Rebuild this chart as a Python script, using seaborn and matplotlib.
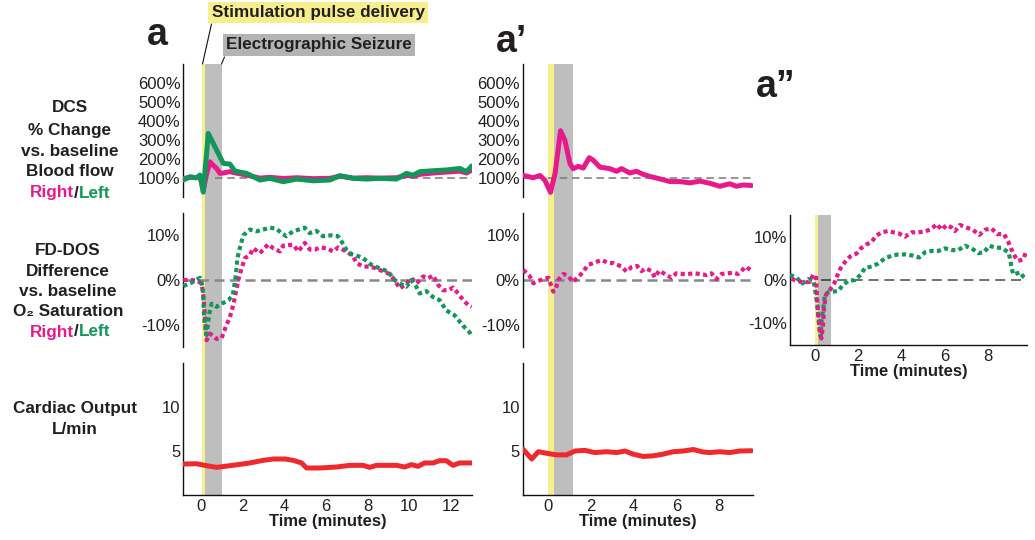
import numpy as np
import pandas as pd
import matplotlib
matplotlib.use("Agg")
import matplotlib.pyplot as plt
import seaborn as sns
from matplotlib.lines import Line2D

# ---------------- data ----------------
# Panel a : DCS blood flow (% of baseline)
A_DCS_LEFT_T = [-0.85, -0.53, -0.21, -0.05, 0.11, 0.35, 0.59, 0.83, 1.07, 1.39, 1.63, 2.19, 2.83, 3.31,
                3.95, 4.59, 5.39, 6.19, 6.67, 7.31, 7.95, 8.59, 9.39, 9.87, 10.19, 10.51, 11.15, 11.79,
                12.43, 12.75, 13.0]
A_DCS_LEFT_V = [88, 105, 100, 114, 24, 334, 281, 228, 176, 172, 135, 123, 88, 97, 79, 93, 84, 88, 111,
                97, 93, 97, 93, 123, 113, 132, 137, 141, 149, 132, 162]
A_DCS_RIGHT_T = [-0.85, -0.53, -0.21, -0.05, 0.11, 0.27, 0.43, 0.59, 0.75, 0.91, 1.07, 1.39, 1.63, 2.19,
                 2.83, 3.31, 3.95, 4.59, 5.39, 6.19, 6.67, 7.31, 7.95, 8.59, 9.39, 9.87, 10.19, 10.51,
                 11.15, 11.79, 12.43, 12.75, 13.0]
A_DCS_RIGHT_V = [95, 103, 100, 110, 35, 120, 184, 165, 149, 123, 125, 132, 126, 114, 98, 102, 96, 100,
                 95, 97, 108, 98, 100, 98, 100, 112, 108, 118, 125, 130, 135, 125, 140]

# Panel a : FD-DOS O2 saturation difference (%)
A_SAT_LEFT_T = [-0.85, -0.45, -0.05, 0.08, 0.12, 0.15, 0.19, 0.27, 0.40, 0.51, 0.75, 1.0, 1.32, 1.53,
                1.64, 1.69, 1.75, 1.87, 2.03, 2.35, 2.67, 3.31, 3.62, 3.86, 4.1, 4.42, 4.98, 5.22,
                5.54, 5.86, 6.26, 6.58, 6.74, 6.98, 7.22, 7.46, 7.78, 8.18, 8.58, 8.98, 9.3, 9.54,
                9.86, 10.1, 10.34, 10.5, 10.82, 11.14, 11.46, 11.78, 12.18, 12.58, 12.9, 13.0]
A_SAT_LEFT_V = [-1.35, -0.6, 0.5, -1.5, -4.9, -7.9, -10.2, -12.3, -7.5, -5.3, -6.0, -5.3, -4.5, -3.4,
                0.0, 1.9, 4.9, 7.2, 10.0, 11.3, 10.9, 11.7, 11.5, 10.5, 9.8, 10.9, 11.7, 10.5, 11.0,
                9.8, 10.0, 9.8, 8.7, 6.8, 5.8, 5.5, 4.9, 3.4, 2.6, 1.9, 0.0, -0.8, -1.5, 0.0, -1.5,
                -3.0, -2.5, -3.8, -4.5, -6.8, -7.9, -10.2, -11.7, -12.8]
A_SAT_RIGHT_T = [-0.85, -0.53, -0.21, 0.03, 0.11, 0.19, 0.27, 0.43, 0.75, 0.99, 1.23, 1.39, 1.55, 1.68,
                 1.79, 1.95, 2.11, 2.35, 2.51, 2.83, 3.23, 3.47, 3.79, 3.95, 4.43, 4.67, 4.99, 5.23,
                 5.47, 5.71, 6.03, 6.35, 6.59, 6.99, 7.31, 7.47, 7.79, 8.11, 8.43, 8.75, 8.99, 9.23,
                 9.55, 9.87, 10.11, 10.35, 10.67, 10.91, 11.15, 11.39, 11.63, 11.87, 12.11, 12.35,
                 12.59, 12.83, 13.0]
A_SAT_RIGHT_V = [0.0, 0.0, -0.1, -0.8, -3.4, -8.0, -13.5, -12.0, -13.2, -13.0, -10.0, -8.3, -5.6, -2.6,
                 0.0, 2.6, 4.9, 5.6, 7.1, 6.0, 8.0, 7.1, 6.4, 7.7, 7.9, 6.4, 8.3, 6.8, 6.8, 7.3, 7.1,
                 6.4, 7.3, 6.4, 5.3, 3.8, 3.0, 3.0, 2.6, 1.9, 1.5, 0.4, -1.9, -0.8, 0.4, -0.8, 0.8,
                 0.4, 1.0, -1.1, -2.3, -2.3, -1.7, -3.0, -4.5, -5.6, -6.0]

# Panel a : cardiac output (L/min)
A_CO_T = [-0.85, -0.21, 0.27, 0.75, 1.39, 2.35, 2.99, 3.47, 4.03, 4.43, 4.83, 5.07, 5.71, 6.51, 7.15,
          7.78, 8.1, 8.43, 9.39, 9.78, 10.1, 10.42, 10.74, 11.14, 11.46, 11.78, 12.1, 12.42, 13.0]
A_CO_V = [3.52, 3.55, 3.33, 3.14, 3.33, 3.64, 3.94, 4.09, 4.09, 3.94, 3.64, 3.07, 3.07, 3.18, 3.37,
          3.37, 3.14, 3.37, 3.37, 3.18, 3.45, 3.26, 3.64, 3.64, 3.9, 3.9, 3.37, 3.64, 3.64]

# Panel a' : DCS right only
B_DCS_RIGHT_T = [-1.15, -0.69, -0.37, -0.14, 0.12, 0.33, 0.59, 0.79, 1.03, 1.18, 1.42, 1.65, 1.93, 2.12,
                 2.43, 2.89, 3.21, 3.44, 3.83, 4.14, 4.45, 4.76, 5.23, 5.7, 6.16, 6.63, 7.1, 7.56,
                 8.03, 8.5, 8.81, 9.12, 9.51]
B_DCS_RIGHT_V = [112, 100, 112, 86, 23, 121, 348, 298, 174, 148, 160, 151, 206, 192, 156, 148, 134, 148,
                 125, 134, 118, 107, 94, 80, 80, 73, 82, 71, 55, 68, 55, 62, 59]

# Panel a' : FD-DOS right only
B_SAT_RIGHT_T = [-1.15, -0.86, -0.68, -0.45, -0.22, 0.02, 0.14, 0.25, 0.37, 0.48, 0.72, 0.95, 1.15, 1.42,
                 1.65, 1.88, 2.19, 2.5, 2.78, 3.08, 3.44, 3.67, 3.9, 4.17, 4.37, 4.57, 4.84, 4.99, 5.2,
                 5.46, 5.77, 6.0, 6.32, 6.55, 6.86, 7.1, 7.41, 7.64, 7.87, 8.11, 8.42, 8.65, 8.88,
                 9.04, 9.24, 9.46]
B_SAT_RIGHT_V = [2.25, 0.9, -0.75, -0.2, 0.2, 0.5, -1.1, -2.6, -1.9, 0.0, 1.35, 0.9, -0.4, 0.6, 1.9, 3.4,
                 3.9, 4.5, 3.9, 3.75, 3.0, 1.9, 2.85, 3.15, 2.0, 2.6, 2.0, 0.6, 2.1, 1.35, 0.5, 1.5,
                 1.35, 1.35, 1.5, 1.35, 1.1, 1.5, 0.2, 1.35, 1.5, 1.65, 1.35, 2.0, 3.0, 2.25]

# Panel a' : cardiac output
B_CO_T = [-1.15, -0.76, -0.45, 0.02, 0.4, 0.87, 1.26, 1.73, 2.19, 2.74, 3.21, 3.6, 3.98, 4.45, 4.92,
          5.38, 5.85, 6.32, 6.79, 7.25, 7.56, 8.03, 8.5, 8.96, 9.51]
B_CO_V = [5.17, 4.09, 4.92, 4.71, 4.56, 4.56, 5.0, 5.07, 4.82, 4.92, 4.82, 5.0, 4.64, 4.38, 4.45, 4.64,
          4.92, 5.0, 5.17, 4.89, 4.82, 4.92, 4.82, 5.0, 5.03]

# Panel a'' : FD-DOS right/left
C_SAT_RIGHT_T = [-1.08, -0.85, -0.5, -0.23, -0.08, 0.05, 0.08, 0.11, 0.15, 0.2, 0.24, 0.3, 0.38, 0.42,
                 0.5, 0.69, 0.88, 1.03, 1.18, 1.38, 1.62, 1.92, 2.12, 2.38, 2.62, 2.82, 3.08, 3.38,
                 3.62, 3.85, 4.15, 4.46, 4.77, 5.08, 5.38, 5.62, 5.85, 6.08, 6.31, 6.46, 6.69, 7.0,
                 7.28, 7.58, 7.85, 8.15, 8.41, 8.72, 8.92, 9.08, 9.23, 9.38, 9.61, 9.74]
C_SAT_RIGHT_V = [0.3, -0.2, -0.6, -0.4, 1.2, 1.0, -2.3, -5.0, -8.0, -10.5, -12.5, -13.5, -10.0, -6.5,
                 -3.5, -2.3, -0.9, 1.0, 2.7, 4.1, 5.4, 6.1, 7.3, 8.2, 8.8, 10.2, 11.0, 11.3, 11.0, 10.8,
                 10.0, 11.0, 11.0, 11.2, 11.8, 12.9, 11.6, 12.7, 12.1, 11.3, 12.7, 12.1, 11.6, 10.4,
                 11.6, 11.9, 10.6, 10.6, 8.8, 6.9, 5.4, 4.4, 4.8, 6.5]
C_SAT_LEFT_T = [-1.15, -0.85, -0.57, -0.31, -0.08, 0.0, 0.05, 0.11, 0.15, 0.2, 0.23, 0.27, 0.31, 0.38,
                0.46, 0.62, 0.82, 1.08, 1.28, 1.54, 1.85, 2.11, 2.31, 2.62, 2.92, 3.23, 3.54, 3.85,
                4.2, 4.54, 4.81, 5.08, 5.38, 5.69, 6.0, 6.31, 6.61, 6.92, 7.23, 7.54, 7.8, 8.04,
                8.31, 8.62, 8.92, 9.0, 9.08, 9.15, 9.31, 9.46, 9.61, 9.74]
C_SAT_LEFT_V = [1.2, 0.5, -0.8, 0.2, 0.0, -1.9, -3.8, -5.8, -8.1, -10.4, -12.3, -13.0, -9.2, -6.9, -3.5,
                -2.8, -2.7, -2.5, -1.2, -0.2, 0.0, 1.2, 2.8, 3.1, 3.8, 5.0, 5.6, 5.9, 5.9, 5.6, 5.2,
                6.4, 6.7, 6.7, 7.3, 6.9, 6.9, 7.9, 7.3, 6.2, 6.4, 7.9, 7.5, 7.4, 6.4, 5.0, 2.7, 1.3,
                1.5, 1.8, 0.8, 0.2]

# event windows (minutes)
A_STIM, A_SEIZ = (0.05, 0.18), (0.18, 1.02)
B_STIM, B_SEIZ = (0.0, 0.27), (0.27, 1.16)
C_STIM, C_SEIZ = (0.0, 0.12), (0.12, 0.72)

A_XLIM, B_XLIM, C_XLIM = (-0.85, 13.03), (-1.18, 9.57), (-1.15, 9.77)
A_XTICKS, B_XTICKS = [0, 2, 4, 6, 8, 10, 12], [0, 2, 4, 6, 8]
DCS_TICKS = [0, 100, 200, 300, 400, 500, 600]
DCS_LABELS = ['', '100%', '200%', '300%', '400%', '500%', '600%']
SAT_TICKS = [-10, 0, 10]
SAT_LABELS = ['-10%', '0%', '10%']
CO_TICKS = [5, 10]
CO_LABELS = ['5', '10']

# ---------------- style ----------------
sns.set_style("white")
plt.rcParams['font.family'] = ['Liberation Sans', 'DejaVu Sans']

PINK = '#E8198B'
GREEN = '#12975A'
RED = '#EE2A2F'
YELLOW = '#F6EF8D'
GREY = '#BEBEBE'
TXT = '#231F20'
FS = 12

W, H = 1035, 540
fig = plt.figure(figsize=(10.35, 5.4), dpi=100)


def rect(x0, y0, x1, y1):
    return [x0 / W, 1 - y1 / H, (x1 - x0) / W, (y1 - y0) / H]


def fx(x):
    return x / W


def fy(y):
    return 1 - y / H


def style_axis(ax, bottom=False):
    for s in ['top', 'right']:
        ax.spines[s].set_visible(False)
    ax.spines['left'].set_color('#111111')
    ax.spines['left'].set_linewidth(1.0)
    if bottom:
        ax.spines['bottom'].set_color('#111111')
        ax.spines['bottom'].set_linewidth(1.0)
    else:
        ax.spines['bottom'].set_visible(False)
        ax.set_xticks([])
    ax.tick_params(direction='in', length=4, width=0.9, color='#111111',
                   labelsize=FS, labelcolor=TXT, pad=2)
    ax.set_facecolor('none')
    ax.grid(False)


def shade(ax, stim, seiz, ymin=0.0, ymax=1.0):
    for (a, b), c in ((stim, YELLOW), (seiz, GREY)):
        p = ax.axvspan(a, b, ymin=ymin, ymax=ymax, color=c, lw=0, zorder=0)
        p.set_clip_on(False)


def solid(ax, t, v, color):
    sns.lineplot(x=t, y=v, ax=ax, color=color, lw=3.6, estimator=None, sort=False,
                 errorbar=None, solid_joinstyle='round', solid_capstyle='round', zorder=3)


def dotted(ax, t, v, color):
    sns.lineplot(x=t, y=v, ax=ax, color=color, lw=3.0, estimator=None, sort=False,
                 errorbar=None, linestyle=(0, (1.0, 0.8)), dash_capstyle='butt', zorder=3)


# ---------------- axes ----------------
ax_at = fig.add_axes(rect(183.3, 64, 472.3, 196.7))
ax_am = fig.add_axes(rect(183.3, 213, 472.3, 347))
ax_ab = fig.add_axes(rect(183.3, 363, 472.3, 495))
ax_bt = fig.add_axes(rect(522.7, 64, 752.7, 196.7))
ax_bm = fig.add_axes(rect(522.7, 213, 752.7, 347))
ax_bb = fig.add_axes(rect(522.7, 363, 752.7, 495))
ax_cm = fig.add_axes(rect(790, 215, 1026.7, 345))

gap_top = -16.3 / 132.7
gap_mid = -16.0 / 134.0
for ax_t, ax_m, ax_b, stim, seiz in ((ax_at, ax_am, ax_ab, A_STIM, A_SEIZ),
                                     (ax_bt, ax_bm, ax_bb, B_STIM, B_SEIZ)):
    shade(ax_t, stim, seiz, ymin=gap_top)
    shade(ax_m, stim, seiz, ymin=gap_mid)
    shade(ax_b, stim, seiz)
shade(ax_cm, C_STIM, C_SEIZ)

# panel a
solid(ax_at, A_DCS_RIGHT_T, A_DCS_RIGHT_V, PINK)
solid(ax_at, A_DCS_LEFT_T, A_DCS_LEFT_V, GREEN)
ax_at.hlines(100, 0.67, A_XLIM[1], colors='#7a7a7a', lw=1.1, linestyles=(0, (5, 3)), zorder=2)
dotted(ax_am, A_SAT_RIGHT_T, A_SAT_RIGHT_V, PINK)
dotted(ax_am, A_SAT_LEFT_T, A_SAT_LEFT_V, GREEN)
ax_am.hlines(0, A_XLIM[0], A_XLIM[1], colors='#888888', lw=1.8, linestyles=(0, (4, 2.2)), zorder=2)
solid(ax_ab, A_CO_T, A_CO_V, RED)

# panel a'
solid(ax_bt, B_DCS_RIGHT_T, B_DCS_RIGHT_V, PINK)
ax_bt.hlines(100, B_XLIM[0], B_XLIM[1], colors='#7a7a7a', lw=1.1, linestyles=(0, (5, 3)), zorder=2)
dotted(ax_bm, B_SAT_RIGHT_T, B_SAT_RIGHT_V, PINK)
ax_bm.hlines(0, B_XLIM[0], B_XLIM[1], colors='#888888', lw=1.8, linestyles=(0, (4, 2.2)), zorder=2)
solid(ax_bb, B_CO_T, B_CO_V, RED)

# panel a''
dotted(ax_cm, C_SAT_LEFT_T, C_SAT_LEFT_V, GREEN)
dotted(ax_cm, C_SAT_RIGHT_T, C_SAT_RIGHT_V, PINK)
ax_cm.hlines(0, 0.3, C_XLIM[1], colors='black', alpha=0.65, lw=1.2, linestyles=(0, (6, 3.5)), zorder=2)

for ax in (ax_at, ax_bt):
    style_axis(ax)
    ax.set_ylim(0, 700)
    ax.set_yticks(DCS_TICKS)
    ax.set_yticklabels(DCS_LABELS)
for ax in (ax_am, ax_bm):
    style_axis(ax)
    ax.set_ylim(-15, 15)
    ax.set_yticks(SAT_TICKS)
    ax.set_yticklabels(SAT_LABELS)
for ax in (ax_ab, ax_bb):
    style_axis(ax, bottom=True)
    ax.set_ylim(0, 15)
    ax.set_yticks(CO_TICKS)
    ax.set_yticklabels(CO_LABELS)
style_axis(ax_cm, bottom=True)
ax_cm.set_ylim(-15, 15)
ax_cm.set_yticks(SAT_TICKS)
ax_cm.set_yticklabels(SAT_LABELS)

for ax in (ax_at, ax_am, ax_ab):
    ax.set_xlim(*A_XLIM)
for ax in (ax_bt, ax_bm, ax_bb):
    ax.set_xlim(*B_XLIM)
ax_cm.set_xlim(*C_XLIM)
ax_ab.set_xticks(A_XTICKS)
ax_bb.set_xticks(B_XTICKS)
ax_cm.set_xticks(B_XTICKS)
for ax in (ax_at, ax_am, ax_ab, ax_bt, ax_bm, ax_bb, ax_cm):
    ax.set_ylabel('')
    ax.set_xlabel('')
for ax in (ax_ab, ax_bb, ax_cm):
    ax.tick_params(axis='x', pad=3)
    ax.set_xlabel('Time (minutes)', fontsize=FS, fontweight='bold', color=TXT, labelpad=0)

# ---------------- texts ----------------
bold = dict(fontsize=12.3, fontweight='bold', color=TXT, ha='center', va='center')
for txt, y in (("DCS", 108), ("% Change", 130), ("vs. baseline", 151), ("Blood flow", 172)):
    fig.text(fx(70), fy(y), txt, **bold)
for txt, y in (("FD-DOS", 250), ("Difference", 271), ("vs. baseline", 291), ("O\u2082 Saturation", 312)):
    fig.text(fx(68), fy(y), txt, **bold)
for txt, y in (("Cardiac Output", 408), ("L/min", 430)):
    fig.text(fx(75), fy(y), txt, **bold)
for y in (193, 332):
    fig.text(fx(76.5), fy(y), "/", **bold)
    fig.text(fx(74), fy(y), "Right", **dict(bold, ha='right', color=PINK))
    fig.text(fx(79), fy(y), "Left", **dict(bold, ha='left', color=GREEN))

letter = dict(fontsize=27, fontweight='bold', color=TXT, ha='left', va='baseline')
fig.text(fx(147), fy(45), "a", **letter)
fig.text(fx(496), fy(52), "a\u2019", **letter)
fig.text(fx(756), fy(97), "a\u201d", **letter)

fig.text(fx(318), fy(12.5), "Stimulation pulse delivery", fontsize=12.3, fontweight='bold', color=TXT,
         ha='center', va='center', bbox=dict(boxstyle='square,pad=0.18', fc=YELLOW, ec='none'))
fig.text(fx(319), fy(45), "Electrographic Seizure", fontsize=12.3, fontweight='bold', color=TXT,
         ha='center', va='center', bbox=dict(boxstyle='square,pad=0.18', fc='#B3B3B3', ec='none'))
fig.add_artist(Line2D([fx(211.5), fx(202.5)], [fy(24), fy(64)], color='#111111', lw=0.8))
fig.add_artist(Line2D([fx(224.5), fx(221.5)], [fy(57), fy(64)], color='#111111', lw=0.8))

fig.savefig("out.png", dpi=100)
